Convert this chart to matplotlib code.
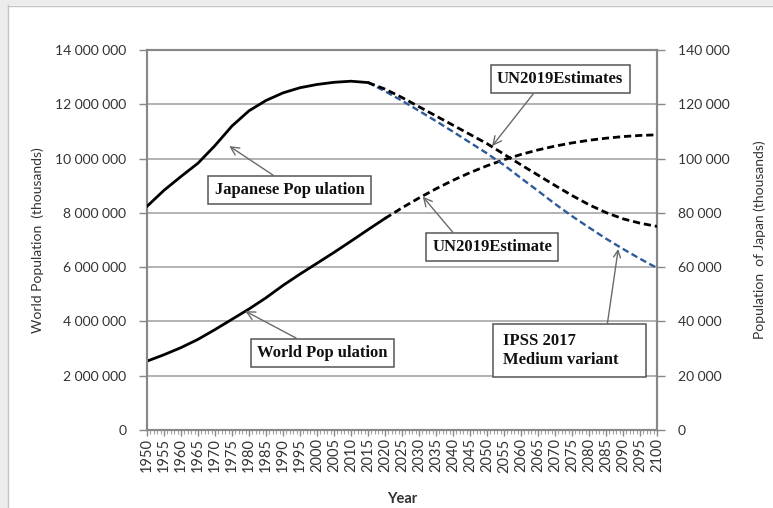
import matplotlib
matplotlib.use("Agg")
import matplotlib.pyplot as plt
from matplotlib.ticker import FuncFormatter, MultipleLocator
from matplotlib.patches import Rectangle

# ---- data (thousands) ----
years_hist = [1950, 1955, 1960, 1965, 1970, 1975, 1980, 1985, 1990, 1995, 2000, 2005, 2010, 2015]
japan_hist = [82400, 88300, 93400, 98300, 104800, 112000, 117600, 121400, 124200, 126100, 127300, 128100, 128500, 128000]

world_hist_years = [1950, 1955, 1960, 1965, 1970, 1975, 1980, 1985, 1990, 1995, 2000, 2005, 2010, 2015, 2020]
world_hist = [2536000, 2773000, 3035000, 3340000, 3700000, 4079000, 4458000, 4871000, 5327000, 5744000,
              6143000, 6542000, 6957000, 7380000, 7795000]

world_proj_years = [2020, 2025, 2030, 2035, 2040, 2045, 2050, 2055, 2060, 2065, 2070, 2075, 2080, 2085, 2090, 2095, 2100]
world_proj = [7795000, 8184000, 8548000, 8887000, 9199000, 9482000, 9735000, 9958000, 10152000, 10318000,
              10459000, 10577000, 10674000, 10750000, 10810000, 10852000, 10875000]

proj_years = [2015, 2020, 2025, 2030, 2035, 2040, 2045, 2050, 2055, 2060, 2065, 2070, 2075, 2080, 2085, 2090, 2095, 2100]
japan_un = [128000, 125600, 122500, 119100, 115700, 112300, 108900, 105500, 101600, 97700, 93900, 90100, 86400, 83000, 80100, 77800, 76200, 75000]
japan_ipss = [128000, 124800, 121300, 117600, 113800, 109900, 105900, 101900, 97600, 92800, 88100, 83300, 78800, 74600, 70500, 66700, 63100, 59700]

xtick_years = list(range(1950, 2101, 5))
left_ticks = list(range(0, 14000001, 2000000))
right_ticks = list(range(0, 140001, 20000))

# ---- figure ----
W, H = 773, 508
fig = plt.figure(figsize=(W / 100, H / 100), dpi=100)
fig.patch.set_facecolor("white")

# outer screenshot-like frame
fig.patches.append(Rectangle((0, 0), 8 / W, 1, transform=fig.transFigure, facecolor="#ececec", edgecolor="none", zorder=0))
fig.patches.append(Rectangle((0, 1 - 5 / H), 1, 5 / H, transform=fig.transFigure, facecolor="#ececec", edgecolor="none", zorder=0))
fig.add_artist(plt.Line2D([8 / W, 8 / W], [0, 1 - 5 / H], transform=fig.transFigure, color="#c4c4c4", lw=1))
fig.add_artist(plt.Line2D([8 / W, 1], [1 - 6 / H, 1 - 6 / H], transform=fig.transFigure, color="#c4c4c4", lw=1))

ax = fig.add_axes([147 / W, 1 - 430 / H, (657 - 147) / W, (430 - 50) / H])
ax2 = ax.twinx()

tick_font = "Lato"
axis_col = "#888888"
txt_col = "#333333"

# world (left axis)
ax.plot(world_hist_years, world_hist, color="black", lw=2.0, zorder=3)
ax.plot(world_proj_years, world_proj, color="black", lw=2.0, linestyle=(0, (2.6, 1.4)), zorder=3)

# japan (right axis)
ax2.plot(years_hist, japan_hist, color="black", lw=2.0, zorder=3)
ax2.plot(proj_years, japan_ipss, color="#2d5a98", lw=1.7, linestyle=(0, (2.8, 1.5)), zorder=3)
ax2.plot(proj_years, japan_un, color="black", lw=2.0, linestyle=(0, (2.6, 1.4)), zorder=4)

ax.set_xlim(1950, 2100)
ax.set_ylim(0, 14000000)
ax2.set_ylim(0, 140000)

fmt = FuncFormatter(lambda v, p: f"{int(v):,}".replace(",", " "))
ax.set_yticks(left_ticks)
ax2.set_yticks(right_ticks)
ax.yaxis.set_major_formatter(fmt)
ax2.yaxis.set_major_formatter(fmt)
ax.set_xticks(xtick_years)
ax.set_xticklabels([str(y) for y in xtick_years], rotation=90)
ax.xaxis.set_minor_locator(MultipleLocator(1))

ax.grid(axis="y", color="#a6a6a6", lw=1.2, zorder=0)
ax.set_axisbelow(True)

for a in (ax, ax2):
    for s in a.spines.values():
        s.set_color(axis_col)
        s.set_linewidth(1.5)
    a.tick_params(colors=axis_col, labelcolor=txt_col, width=1, length=6)
    for lab in a.get_yticklabels() + a.get_xticklabels():
        lab.set_fontfamily(tick_font)
        lab.set_fontsize(10)
ax.tick_params(axis="y", pad=9)
ax2.tick_params(axis="y", pad=9)
ax.tick_params(axis="x", which="major", length=4, pad=2)
ax.tick_params(axis="x", which="minor", length=3, color="#a0a0a0", width=0.8)
for lab in ax.get_xticklabels():
    lab.set_fontsize(10.5)

ax.set_ylabel("World Population  (thousands)", fontfamily=tick_font, fontsize=10, color=txt_col)
ax.yaxis.set_label_coords(-0.202, 0.5)
ax2.set_ylabel("Population  of Japan (thousands)", fontfamily=tick_font, fontsize=10, color=txt_col)
ax2.yaxis.set_label_coords(1.19, 0.5)
ax.set_xlabel("Year", fontfamily=tick_font, fontsize=10.5, fontweight="bold", color=txt_col, labelpad=14)

# ---- annotations (in right-axis data coordinates) ----
ann_font = dict(family="Liberation Serif", weight="bold", size=12, color="#111111")
box = dict(boxstyle="square,pad=0.38", facecolor="white", edgecolor="#555555", lw=1.1)
arrow = dict(arrowstyle="->,head_length=0.5,head_width=0.25", color="#6a6a6a", lw=1.0, shrinkA=0, shrinkB=0)

def note(text, xy, xytext, relpos):
    ax2.annotate(text, xy=xy, xytext=xytext, ha="center", va="center", bbox=box, zorder=6,
                 arrowprops=dict(arrow, relpos=relpos), **ann_font)

note("Japanese Pop ulation", (1974.2, 104600), (1991.9, 88400), (0.46, 1.0))
note("UN2019Estimates", (2051.5, 104600), (2071.5, 129300), (0.33, 0.0))
note("UN2019Estimate", (2031.1, 86000), (2051.5, 67400), (0.22, 1.0))
note("World Pop ulation", (1978.9, 43800), (2001.5, 28400), (0.40, 1.0))

# IPSS note: wider box with left-aligned text
ax2.add_patch(Rectangle((2051.8, 19500), 2096.9 - 2051.8, 39100 - 19500, facecolor="white",
                        edgecolor="#555555", lw=1.1, zorder=6))
ax2.text(2054.6, 29300, "IPSS 2017\nMedium variant", ha="left", va="center", multialignment="left",
         zorder=7, **ann_font)
ax2.annotate("", xy=(2088.6, 66700), xytext=(2085.4, 39100), arrowprops=arrow, zorder=6)

fig.savefig("out.png", dpi=100, facecolor=fig.get_facecolor())
